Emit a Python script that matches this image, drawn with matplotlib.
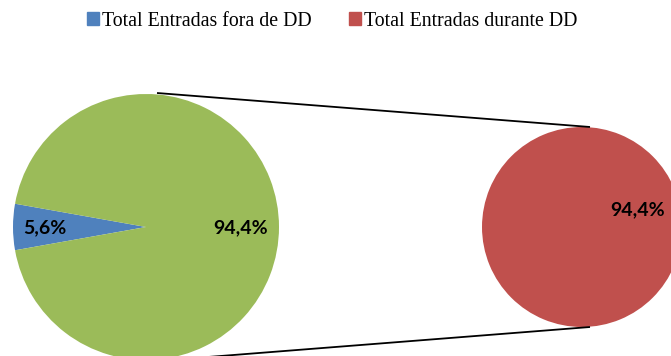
import matplotlib.pyplot as plt
from matplotlib.patches import Patch

# shares of entries
labels = ['Total Entradas fora de DD', 'Total Entradas durante DD']
main_values = [5.6, 94.4]
sub_values = [94.4]
colors = ['#4F81BD', '#9BBB59']
sub_color = '#C0504D'

fig = plt.figure(figsize=(6.71, 3.56), dpi=100)
ax = fig.add_axes([0, 0, 1, 1])

# main pie, small slice pointing left
half = main_values[0] / sum(main_values) * 360 / 2
ax.pie(main_values, colors=colors, center=(146, 227), radius=133,
       startangle=180 - half, counterclock=True,
       wedgeprops=dict(linewidth=0), frame=True)

# secondary pie
ax.pie(sub_values, colors=[sub_color], center=(582, 227), radius=100,
       wedgeprops=dict(linewidth=0), frame=True)
ax.set_xlim(0, 671)
ax.set_ylim(356, 0)
ax.set_aspect('equal')
ax.axis('off')

# connector lines
ax.plot([157, 590], [93, 127], color='black', lw=1.3, solid_capstyle='butt')
ax.plot([157, 590], [361, 327], color='black', lw=1.3, solid_capstyle='butt')

lbl = dict(fontsize=14, fontweight='bold', family='Lato', ha='center', va='center')
ax.text(45, 228, f'{main_values[0]:.1f}%'.replace('.', ','), **lbl)
ax.text(241, 228, f'{main_values[1]:.1f}%'.replace('.', ','), **lbl)
ax.text(638, 210, f'{sub_values[0]:.1f}%'.replace('.', ','), **lbl)

handles = [Patch(color=colors[0]), Patch(color=sub_color)]
fig.legend(handles, labels, loc='center', bbox_to_anchor=(0.495, 1 - 21 / 356), ncol=2,
           frameon=False, prop={'family': 'Liberation Serif', 'size': 14.3},
           handlelength=0.6, handleheight=0.6, handletextpad=0.15, columnspacing=1.85,
           borderpad=0)

fig.savefig('out.png', dpi=100)
